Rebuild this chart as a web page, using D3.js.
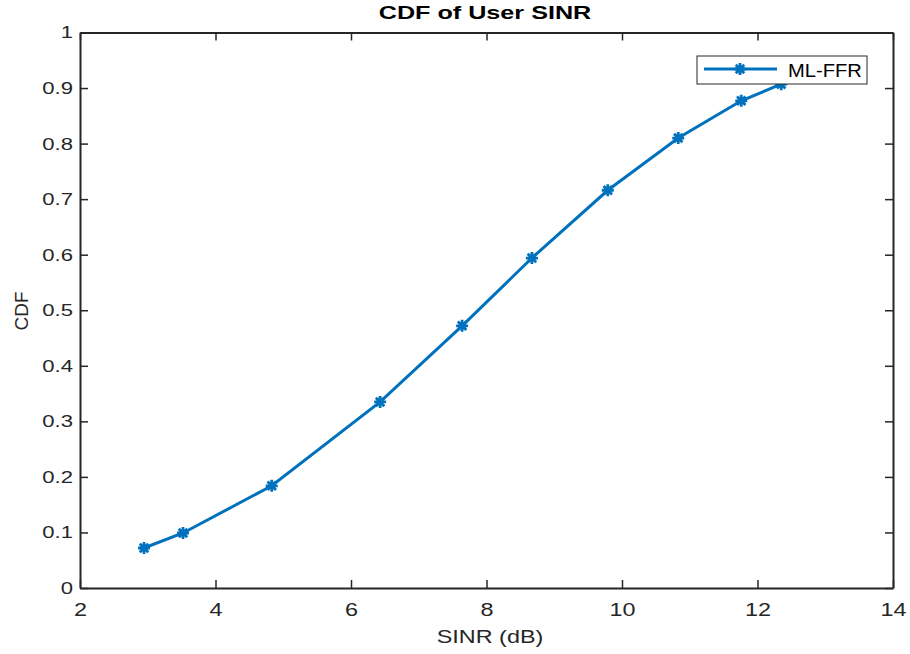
<!DOCTYPE html>
<html>
<head>
<meta charset="utf-8">
<script src="https://cdn.jsdelivr.net/npm/d3@7"></script>
<style>
  body { margin: 0; background: #fff; }
  text { font-family: "Liberation Sans", Arial, sans-serif; }
</style>
</head>
<body>
<div id="chart"></div>
<script>
// data
var seriesName = "ML-FFR";
var sinr = [2.945, 3.52, 4.83, 6.43, 7.64, 8.67, 9.79, 10.83, 11.76, 12.35];
var cdf  = [0.072, 0.099, 0.184, 0.335, 0.472, 0.594, 0.716, 0.810, 0.877, 0.907];
var xTicks = [2, 4, 6, 8, 10, 12, 14];
var yTicks = [0, 0.1, 0.2, 0.3, 0.4, 0.5, 0.6, 0.7, 0.8, 0.9, 1];
var yTickLabels = ["0", "0.1", "0.2", "0.3", "0.4", "0.5", "0.6", "0.7", "0.8", "0.9", "1"];

var W = 910, H = 654;
var margin = {top: 32.5, right: 17, bottom: 66, left: 80};
var width = W - margin.left - margin.right,
    height = H - margin.top - margin.bottom;
var blue = "#0072BD";
var sx = 1.3; // the figure's text is stretched horizontally

var svg = d3.select("#chart").append("svg")
    .attr("width", W).attr("height", H);
var g = svg.append("g")
    .attr("transform", "translate(" + margin.left + "," + margin.top + ")");

var x = d3.scaleLinear().domain([2, 14]).range([0, width]);
var y = d3.scaleLinear().domain([0, 1]).range([height, 0]);

// axes, ticks inward on all four sides
var bottom = g.append("g")
    .attr("transform", "translate(0," + height + ")")
    .call(d3.axisBottom(x).tickValues(xTicks).tickSizeInner(-8).tickSizeOuter(0).tickPadding(15));
var left = g.append("g")
    .call(d3.axisLeft(y).tickValues(yTicks).tickSizeInner(-8).tickSizeOuter(0).tickPadding(7)
      .tickFormat(function(d, i) { return yTickLabels[i]; }));
g.append("g")
    .call(d3.axisTop(x).tickValues(xTicks).tickSizeInner(-8).tickSizeOuter(0).tickFormat(""));
g.append("g")
    .attr("transform", "translate(" + width + ",0)")
    .call(d3.axisRight(y).tickValues(yTicks).tickSizeInner(-8).tickSizeOuter(0).tickFormat(""));

g.selectAll(".domain").attr("stroke", "#262626").attr("stroke-width", 2);
g.selectAll(".tick line").attr("stroke", "#262626").attr("stroke-width", 1.5);

bottom.selectAll("text")
    .style("font-size", "18px").attr("fill", "#262626")
    .attr("transform", "scale(" + sx + ",1)");
left.selectAll("text")
    .style("font-size", "17px").attr("fill", "#262626")
    .attr("x", -7 / sx)
    .attr("transform", "scale(" + sx + ",1)");

// line
var line = d3.line()
    .x(function(d, i) { return x(sinr[i]); })
    .y(function(d) { return y(d); });

g.append("path")
    .datum(cdf)
    .attr("fill", "none")
    .attr("stroke", blue)
    .attr("stroke-width", 3)
    .attr("d", line);

// asterisk marker like matlab '*'
function star(r) {
  var k = r * 0.7071;
  return "M" + (-r) + ",0L" + r + ",0M0," + (-r) + "L0," + r +
         "M" + (-k) + "," + (-k) + "L" + k + "," + k +
         "M" + (-k) + "," + k + "L" + k + "," + (-k);
}

g.selectAll(".mark")
    .data(cdf)
    .enter().append("path")
    .attr("class", "mark")
    .attr("transform", function(d, i) { return "translate(" + x(sinr[i]) + "," + y(d) + ")"; })
    .attr("d", star(6))
    .attr("fill", "none")
    .attr("stroke", blue)
    .attr("stroke-width", 2.8);

// legend (drawn over the line)
var lg = svg.append("g").attr("transform", "translate(697,56)");
lg.append("rect")
    .attr("width", 170).attr("height", 28)
    .attr("fill", "#fff").attr("stroke", "#262626").attr("stroke-width", 1);
lg.append("line")
    .attr("x1", 7).attr("x2", 80).attr("y1", 13).attr("y2", 13)
    .attr("stroke", blue).attr("stroke-width", 3);
lg.append("path")
    .attr("transform", "translate(43,13)")
    .attr("d", star(6))
    .attr("fill", "none").attr("stroke", blue).attr("stroke-width", 2.8);
lg.append("text")
    .attr("transform", "translate(91,20.5) scale(1.12,1)")
    .style("font-size", "18px").attr("fill", "#000")
    .text(seriesName);

// title and axis labels
svg.append("text")
    .attr("transform", "translate(485,18.5) scale(1.4,1)")
    .attr("text-anchor", "middle")
    .style("font-size", "18px").style("font-weight", "bold")
    .text("CDF of User SINR");

svg.append("text")
    .attr("transform", "translate(490,643) scale(" + sx + ",1)")
    .attr("text-anchor", "middle")
    .style("font-size", "18px").attr("fill", "#262626")
    .text("SINR (dB)");

svg.append("text")
    .attr("transform", "translate(28,311) rotate(-90)")
    .attr("text-anchor", "middle")
    .style("font-size", "19px").attr("fill", "#262626")
    .text("CDF");
</script>
</body>
</html>
